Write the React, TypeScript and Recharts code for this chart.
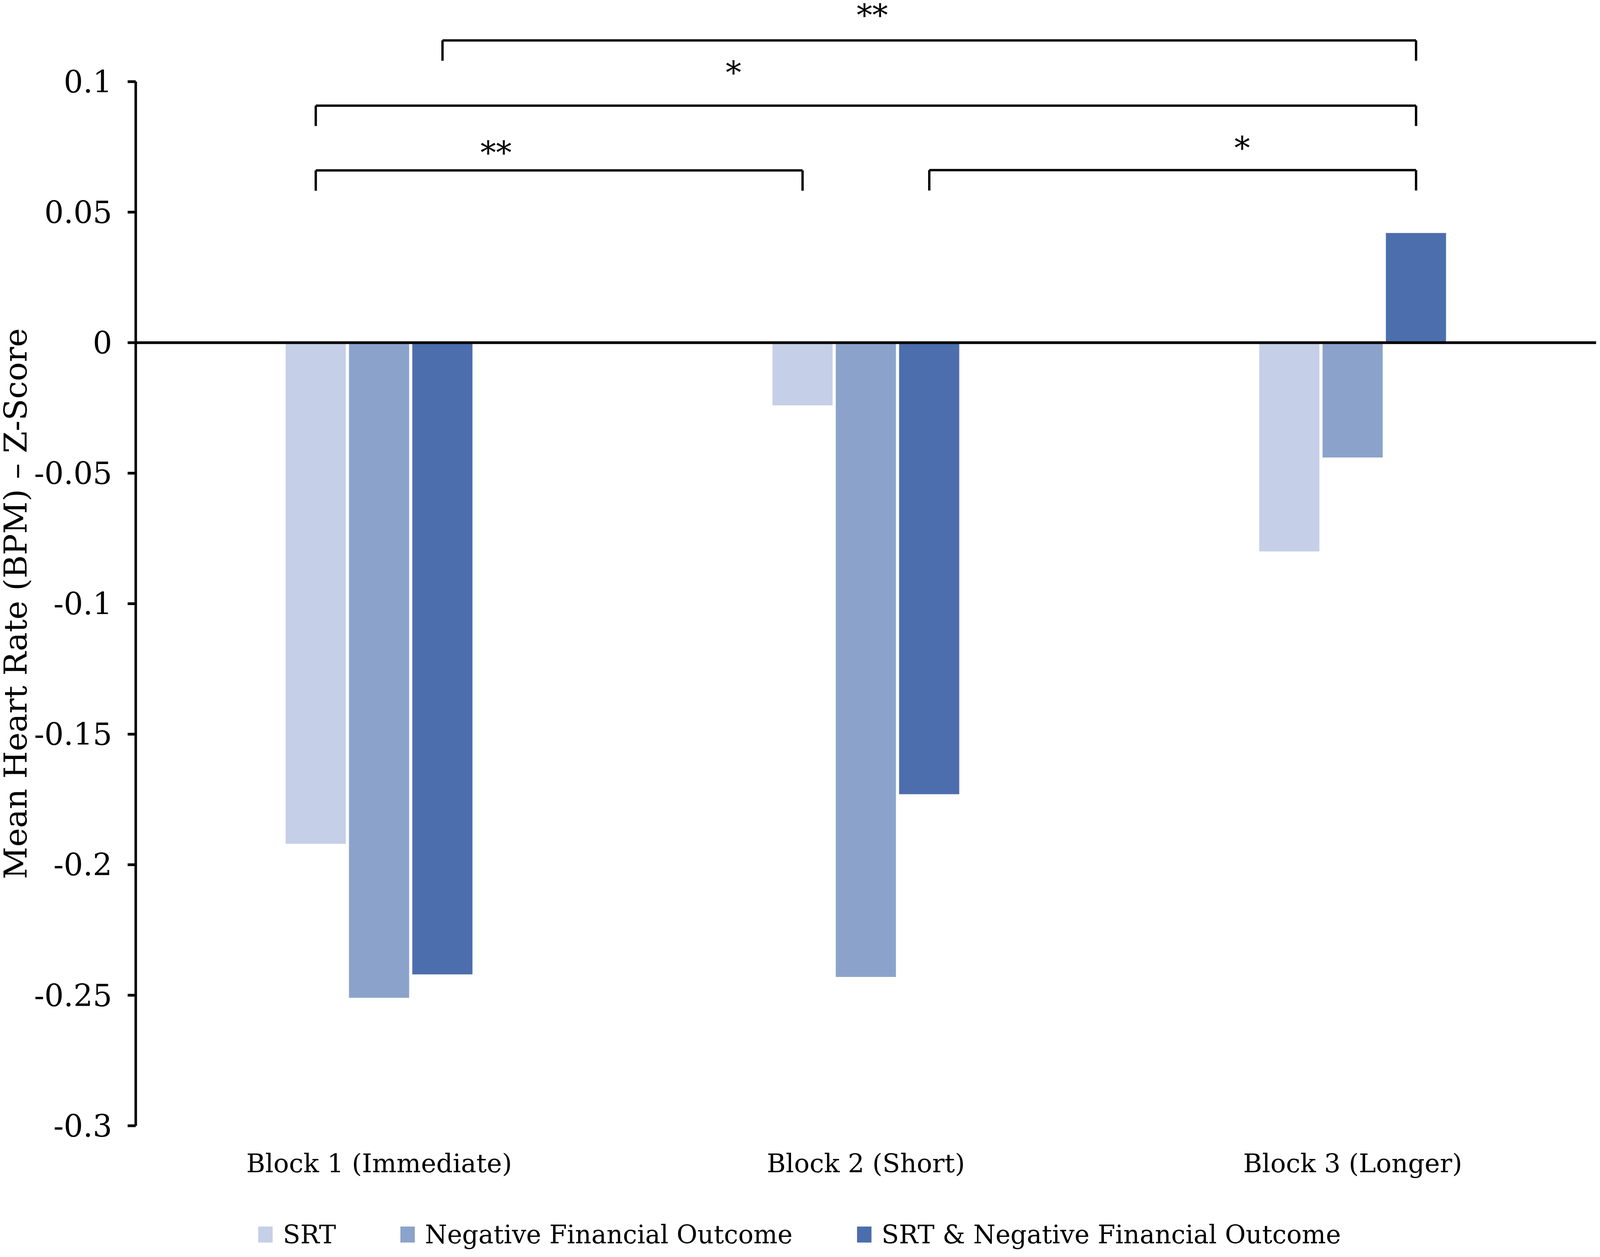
import React from 'react';
import { BarChart, Bar, XAxis, YAxis, ReferenceLine, ReferenceDot, Legend } from 'recharts';

const blocks = ['Block 1 (Immediate)', 'Block 2 (Short)', 'Block 3 (Longer)'];
const srt = [-0.192, -0.024, -0.08];
const negativeOutcome = [-0.251, -0.243, -0.044];
const srtAndNegative = [-0.242, -0.173, 0.042];
const yTicks = [0.1, 0.05, 0, -0.05, -0.1, -0.15, -0.2, -0.25, -0.3];

const seriesKeys = ['srt', 'neg', 'both'];
const seriesNames = ['SRT', 'Negative Financial Outcome', 'SRT & Negative Financial Outcome'];
const seriesColors = ['#C5CFE7', '#8BA3CB', '#4C6EAD'];

// significance brackets, from [block, series] to [block, series]
const bracketFrom = [[0, 2], [0, 0], [0, 0], [1, 2]];
const bracketTo = [[2, 2], [2, 2], [1, 0], [2, 2]];
const bracketLevel = [0.1158, 0.0908, 0.066, 0.0661];
const bracketDrop = 0.0078;
const starText = ['**', '*', '**', '*'];
const starX = [1.513, 1.228, 0.74, 2.273];
const starY = [0.1278, 0.1059, 0.0751, 0.0769];

const FONT = '"DejaVu Serif", serif';
// window is 4096 css px wide, the original figure is 4550 wide
const SX = 4096 / 4550;
const sx = (v: number) => v * SX;

const CAT_GAP = 0.308;
const BAR_GAP = 0.0065;
const BAR_W = (1 - 2 * CAT_GAP - 2 * BAR_GAP) / 3;

const barCenter = (block: number, series: number) =>
  block + CAT_GAP + series * (BAR_W + BAR_GAP) + BAR_W / 2;

const data = blocks.map((name, i) => ({
  name,
  pos: i + 0.5, // block centre on the hidden numeric axis used by the brackets
  srt: srt[i],
  neg: negativeOutcome[i],
  both: srtAndNegative[i],
}));

const YTitle = (props: any) => {
  const vb = props.viewBox || { x: 0, y: 0, height: 0 };
  const cx = vb.x + sx(36);
  const cy = vb.y + vb.height / 2;
  return (
    <text
      x={cx}
      y={cy}
      transform={`rotate(-90 ${cx} ${cy})`}
      textAnchor="middle"
      dominantBaseline="central"
      fontSize={81}
      fontFamily={FONT}
      fill="#000"
    >
      Mean Heart Rate (BPM) – Z-Score
    </text>
  );
};

const renderLegend = () => (
  <div
    style={{
      height: 96,
      display: 'flex',
      alignItems: 'center',
      justifyContent: 'center',
      fontFamily: FONT,
      fontSize: 65,
      color: '#000',
    }}
  >
    {seriesNames.map((name, i) => (
      <div key={name} style={{ display: 'flex', alignItems: 'center', marginLeft: i === 0 ? 0 : sx(183) }}>
        <div style={{ width: sx(41), height: 41, background: seriesColors[i], marginRight: sx(29) }} />
        <span style={{ whiteSpace: 'nowrap' }}>{name}</span>
      </div>
    ))}
  </div>
);

const starShape = (text: string) => (props: any) => (
  <text
    x={props.cx}
    y={props.cy + 0.55 * 80}
    textAnchor="middle"
    fontSize={80}
    fontFamily={FONT}
    fill="#000"
  >
    {text}
  </text>
);

export default function App() {
  const lines: React.ReactNode[] = [];
  bracketFrom.forEach((from, i) => {
    const x1 = barCenter(from[0], from[1]);
    const x2 = barCenter(bracketTo[i][0], bracketTo[i][1]);
    const top = bracketLevel[i];
    const bottom = top - bracketDrop;
    const segs = [
      [{ x: x1, y: bottom }, { x: x1, y: top }],
      [{ x: x1, y: top }, { x: x2, y: top }],
      [{ x: x2, y: top }, { x: x2, y: bottom }],
    ];
    segs.forEach((seg, j) => {
      lines.push(
        <ReferenceLine
          key={`b${i}-${j}`}
          xAxisId="ann"
          segment={seg}
          stroke="#000"
          strokeWidth={6}
          ifOverflow="visible"
        />
      );
    });
  });

  return (
    <div style={{ width: 4084, height: 3202, background: '#fff' }}>
      <BarChart
        width={4084}
        height={3202}
        data={data}
        margin={{ top: 201, right: 6, bottom: 2, left: 0 }}
        barCategoryGap={`${CAT_GAP * 100}%`}
        barGap={`${BAR_GAP * 100}%`}
      >
        <XAxis
          dataKey="name"
          axisLine={false}
          tickLine={false}
          tickSize={0}
          tickMargin={72}
          height={230}
          interval={0}
          tick={{ fill: '#000', fontSize: 66, fontFamily: FONT }}
        />
        <XAxis
          xAxisId="ann"
          dataKey="pos"
          type="number"
          domain={[0, 3]}
          allowDataOverflow
          hide
        />
        <YAxis
          type="number"
          domain={[-0.3, 0.1]}
          ticks={yTicks}
          interval={0}
          allowDataOverflow
          width={sx(386) - 8}
          tickSize={sx(23)}
          tickMargin={sx(44)}
          axisLine={{ stroke: '#000', strokeWidth: 6.5 }}
          tickLine={{ stroke: '#000', strokeWidth: 7 }}
          tick={{ fill: '#000', fontSize: 78, fontFamily: FONT }}
          tickFormatter={(v: number) => String(v)}
          label={<YTitle />}
        />
        {seriesKeys.map((key, i) => (
          <Bar
            key={key}
            dataKey={key}
            name={seriesNames[i]}
            fill={seriesColors[i]}
            isAnimationActive={false}
          />
        ))}
        <ReferenceLine y={0} stroke="#000" strokeWidth={7} />
        {lines}
        {starText.map((t, i) => (
          <ReferenceDot
            key={`s${i}`}
            xAxisId="ann"
            x={starX[i]}
            y={starY[i]}
            r={0}
            ifOverflow="visible"
            shape={starShape(t)}
          />
        ))}
        <Legend verticalAlign="bottom" height={96} content={renderLegend} />
      </BarChart>
    </div>
  );
}
